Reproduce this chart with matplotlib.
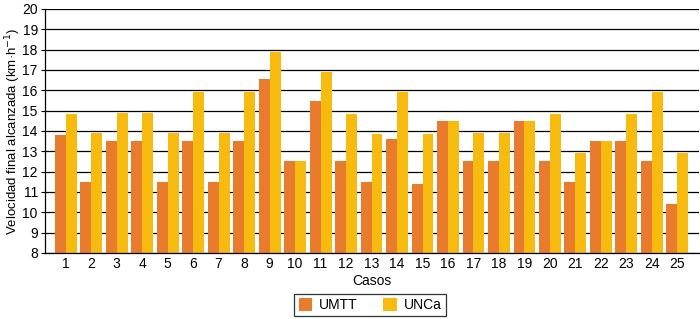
import matplotlib
matplotlib.use("Agg")
import matplotlib.pyplot as plt
import numpy as np

plt.rcParams['font.family'] = ['Liberation Sans', 'DejaVu Sans']

casos = [str(i) for i in range(1, 26)]
umtt = [13.8, 11.5, 13.5, 13.5, 11.5, 13.5, 11.5, 13.5, 16.55, 12.5,
        15.45, 12.5, 11.5, 13.6, 11.4, 14.5, 12.5, 12.5, 14.5, 12.5,
        11.5, 13.5, 13.5, 12.5, 10.4]
unca = [14.85, 13.9, 14.9, 14.9, 13.9, 15.9, 13.9, 15.9, 17.9, 12.5,
        16.9, 14.85, 13.85, 15.9, 13.85, 14.5, 13.9, 13.9, 14.5, 14.85,
        12.9, 13.5, 14.85, 15.9, 12.9]
yticks = list(range(8, 21))

c_umtt = '#E87B2C'
c_unca = '#F7BA0F'

fig = plt.figure(figsize=(7.0, 3.19), dpi=100)
ax = fig.add_axes([0.064, 0.207, 0.935, 0.765])

x = np.arange(1, len(casos) + 1)
w = 0.43
ax.set_axisbelow(True)
ax.yaxis.grid(True, color='black', linewidth=0.9)
ax.bar(x - w / 2, np.array(umtt) - 8, w, bottom=8, color=c_umtt, label='UMTT', zorder=2)
ax.bar(x + w / 2, np.array(unca) - 8, w, bottom=8, color=c_unca, label='UNCa', zorder=2)

ax.set_ylim(8, 20)
ax.set_xlim(0.18, 25.86)
ax.set_yticks(yticks)
ax.set_xticks(x)
ax.set_xticklabels(casos)
ax.tick_params(axis='y', length=3, width=0.8, labelsize=10, pad=2)
ax.tick_params(axis='x', length=0, labelsize=10, pad=3)
for s in ['top', 'right']:
    ax.spines[s].set_visible(False)
ax.spines['left'].set_linewidth(0.9)
ax.spines['bottom'].set_linewidth(0.9)

fig.text(0.005, 0.59, 'Velocidad final alcanzada (km·h$^{-1}$)', fontsize=9.5,
         rotation=90, ha='left', va='center')
ax.set_xlabel('Casos', fontsize=10, labelpad=2)

leg = ax.legend(loc='upper center', bbox_to_anchor=(0.497, -0.14), ncol=2,
                frameon=True, fancybox=False, edgecolor='black', fontsize=10,
                handlelength=1.0, handleheight=1.0, columnspacing=1.8,
                borderpad=0.3, handletextpad=0.5)
leg.get_frame().set_linewidth(0.9)

fig.savefig('out.png', dpi=100)
